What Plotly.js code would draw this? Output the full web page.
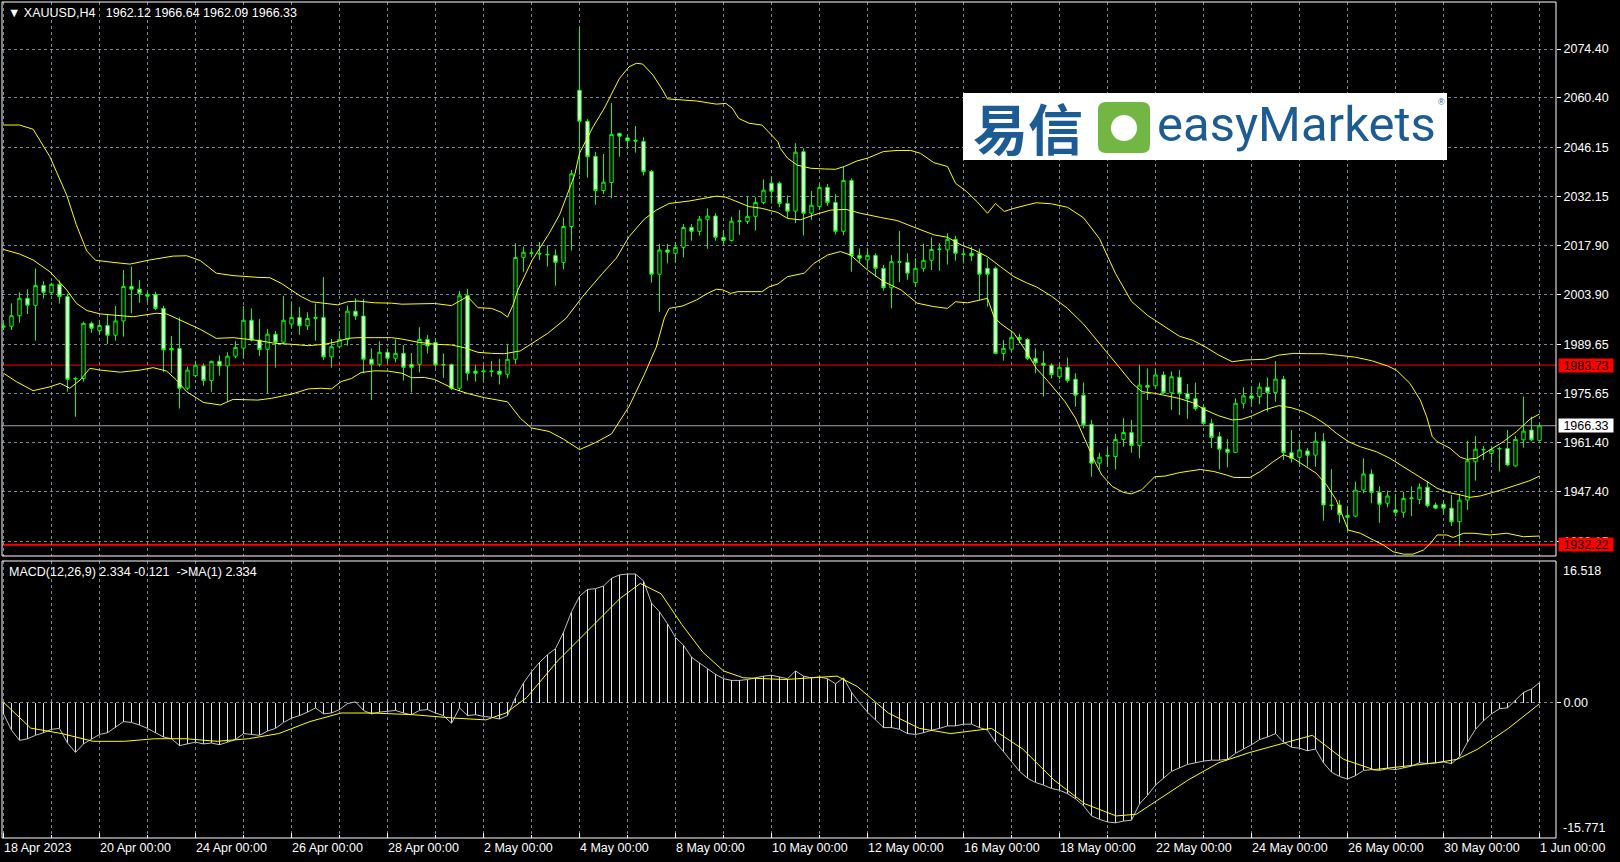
<!DOCTYPE html>
<html><head><meta charset="utf-8">
<script src="https://cdn.plot.ly/plotly-3.0.1.min.js"></script>
<style>html,body{margin:0;padding:0;background:#000;overflow:hidden}#chart{width:1620px;height:862px}</style>
</head><body><div id="chart"></div>
<script>
// ---------------- DATA ----------------
const symbolTitle = "XAUUSD,H4";
const lastOHLC = [1962.12, 1966.64, 1962.09, 1966.33];
const openP = [1994.6,1994.85,1997.9,2002.9,2000.9,2006.6,2004.5,2006.9,2003.4,1979.7,
1979.9,1995.7,1993.6,1995.1,1992.3,1996.4,2006.3,2005.5,2004.0,2004.0,
2000.0,1988.5,1988.5,1977.1,1980.7,1983.5,1979.3,1984.8,1983.5,1986.3,
1988.6,1996.6,1990.9,1988.25,1992.6,1990.3,1995.5,1997.4,1995.0,1997.4,
1997.4,1986.1,1989.0,1991.1,1999.2,1997.8,1985.4,1983.95,1987.4,1985.7,
1987.1,1983.95,1983.95,1991.1,1990.2,1983.9,1983.9,1977.1,2003.7,1982.0,
1981.8,1981.9,1982.0,1981.1,1985.4,2014.65,2015.8,2015.6,2015.5,2015.2,
2013.2,2023.5,2062.6,2053.66,2043.6,2033.8,2036.1,2050.2,2048.9,2048.2,
2047.9,2039.3,2009.8,2016.75,2015.8,2017.5,2023.2,2022.1,2025.55,2026.5,
2020.4,2019.5,2024.9,2024.9,2026.4,2030.4,2035.9,2035.9,2030.1,2027.9,
2044.96,2027.3,2029.2,2034.7,2030.4,2022.1,2036.7,2015.2,2013.9,2015.2,
2011.5,2005.9,2013.2,2013.2,2007.4,2011.5,2013.8,2016.9,2016.8,2019.8,
2015.6,2015.8,2015.8,2011.5,2011.5,1987.1,1988.3,1991.7,1991.1,1985.7,
1984.25,1983.7,1980.4,1983.1,1979.7,1975.1,1966.7,1955.6,1957.6,1957.5,
1962.4,1964.4,1960.7,1977.9,1977.8,1980.9,1975.8,1980.2,1975.5,1974.1,
1971.6,1967.0,1963.2,1959.6,1958.7,1972.8,1974.9,1974.7,1977.4,1975.9,
1979.7,1958.6,1957.3,1959.1,1957.9,1961.9,1943.6,1943.6,1940.6,1940.4,
1947.9,1952.5,1947.2,1944.1,1942.2,1941.5,1945.4,1945.2,1948.7,1943.6,
1943.8,1942.7,1938.8,1945.0,1956.0,1959.4,1958.4,1959.7,1959.8,1954.8,
1962.3,1965.1,1962.12];
const highP = [1995.8,2001.45,2004.6,2005.5,2011.5,2007.8,2007.4,2008.0,2004.3,1980.4,
1996.2,1996.2,1996.7,1998.4,2000.7,2011.0,2012.0,2008.1,2004.8,2004.8,
2000.7,1992.1,1997.4,1983.3,1985.0,1984.2,1985.0,1986.5,1987.4,1990.6,
2000.7,2000.0,1997.0,1994.1,1993.5,2003.6,2002.0,2000.4,1998.9,2001.4,
2009.0,1991.2,1993.5,2000.8,2002.9,2002.7,1988.5,1990.6,1988.5,1991.1,
1989.5,1987.2,1994.6,1992.4,1991.4,1987.1,1984.2,2005.0,2005.6,1983.8,
1983.8,1984.9,1985.5,1989.7,2018.7,2017.7,2016.8,2019.05,2018.1,2016.9,
2026.1,2039.7,2080.6,2054.3,2044.9,2044.3,2058.9,2050.4,2049.9,2052.3,
2049.1,2039.7,2018.5,2018.5,2018.9,2024.2,2024.2,2026.5,2028.7,2027.3,
2022.5,2026.3,2028.2,2032.2,2031.9,2037.0,2037.8,2036.4,2032.4,2047.4,
2045.9,2033.7,2035.7,2035.7,2032.8,2040.7,2037.3,2017.2,2017.2,2015.8,
2012.5,2015.3,2022.2,2015.8,2014.4,2018.5,2020.4,2018.7,2021.6,2020.8,
2016.9,2017.7,2017.2,2014.4,2011.97,1990.9,1993.6,1992.7,1991.5,1988.5,
1987.8,1984.25,1984.1,1985.9,1981.4,1978.7,1968.0,1958.6,1959.9,1964.0,
1968.5,1968.0,1983.8,1982.8,1982.8,1981.9,1981.9,1982.3,1978.3,1978.7,
1972.3,1968.3,1964.6,1962.5,1974.2,1977.4,1977.6,1978.7,1980.2,1984.9,
1980.6,1965.1,1962.1,1959.9,1964.6,1964.2,1953.9,1945.0,1943.1,1950.3,
1957.0,1953.8,1948.9,1947.7,1946.8,1947.4,1948.9,1949.8,1950.3,1944.3,
1945.0,1946.5,1946.8,1962.0,1963.4,1960.5,1960.5,1960.3,1965.1,1963.4,
1974.7,1968.9,1966.64];
const lowP = [1993.8,1993.8,1995.9,1998.4,1990.7,2002.8,2003.8,2001.4,1976.1,1968.9,
1979.0,1993.0,1992.4,1989.8,1990.7,1991.9,1998.6,2001.6,2001.7,1999.5,
1981.8,1981.4,1971.3,1976.6,1980.2,1977.8,1976.1,1980.7,1973.2,1985.7,
1985.7,1990.5,1986.4,1975.6,1983.0,1989.7,1994.3,1992.4,1993.8,1990.7,
1985.2,1983.0,1988.5,1989.3,1996.7,1981.4,1973.7,1983.3,1984.5,1984.5,
1979.3,1975.9,1981.6,1987.1,1983.0,1980.1,1976.6,1976.3,1979.3,1979.0,
1979.3,1980.4,1978.2,1979.9,1983.95,2010.5,2014.65,2013.9,2012.0,2006.5,
2011.2,2016.6,2038.3,2037.5,2029.7,2032.8,2031.6,2043.5,2045.9,2044.7,
2038.1,2007.4,1999.0,2012.9,2013.1,2014.65,2019.4,2020.9,2017.1,2019.4,
2018.2,2019.2,2021.1,2024.2,2022.3,2029.9,2030.1,2029.0,2025.9,2024.4,
2020.9,2025.4,2028.2,2029.4,2021.2,2021.0,2010.5,2013.1,2011.5,2009.1,
2005.1,2000.0,2007.6,2008.2,2006.2,2010.5,2011.0,2010.8,2012.6,2013.7,
2012.9,2013.6,2002.4,2000.5,1986.9,1985.0,1987.3,1990.0,1985.2,1981.4,
1974.7,1979.9,1979.7,1978.7,1971.8,1965.6,1951.7,1953.8,1954.6,1953.8,
1960.3,1958.6,1957.0,1973.7,1977.1,1975.5,1970.9,1969.4,1968.3,1970.7,
1966.6,1959.9,1953.8,1954.4,1958.6,1971.3,1972.0,1972.5,1970.4,1973.2,
1956.5,1955.8,1954.6,1954.6,1954.6,1939.1,1942.2,1938.5,1935.97,1940.1,
1946.95,1944.1,1938.5,1942.9,1940.3,1940.0,1940.4,1943.9,1942.9,1942.4,
1940.7,1937.6,1931.8,1942.2,1950.6,1956.5,1955.6,1953.2,1954.8,1954.6,
1960.05,1961.96,1962.09];
const closeP = [1994.9,1997.9,2002.9,2000.9,2006.6,2004.6,2006.9,2003.4,1979.65,1979.9,
1995.7,1994.3,1995.1,1992.3,1996.4,2006.3,2005.5,2004.3,2003.5,2000.0,
1988.1,1988.1,1977.1,1982.3,1983.7,1979.3,1984.8,1983.5,1986.3,1988.8,
1996.6,1990.9,1988.2,1992.6,1990.3,1996.6,1997.4,1995.0,1997.1,1997.2,
1986.1,1989.0,1991.1,1999.2,1997.8,1985.4,1983.95,1987.4,1985.7,1987.1,
1983.1,1983.1,1991.1,1989.2,1983.8,1983.8,1977.1,2003.6,1981.4,1981.4,
1982.0,1982.0,1981.1,1985.4,2014.6,2016.1,2015.9,2015.7,2015.4,2013.2,
2023.5,2038.6,2053.7,2043.5,2033.8,2036.2,2049.9,2049.4,2048.1,2048.0,
2039.2,2009.8,2016.75,2016.1,2017.5,2023.2,2022.1,2025.6,2026.5,2020.4,
2019.5,2025.0,2025.1,2026.4,2030.4,2033.9,2033.6,2030.1,2027.9,2044.8,
2027.3,2029.6,2034.7,2030.4,2022.1,2036.7,2015.1,2014.4,2015.2,2011.5,
2005.9,2013.4,2013.4,2010.1,2011.5,2013.8,2016.9,2017.0,2019.8,2015.8,
2015.5,2015.1,2009.8,2009.8,1987.1,1988.55,1991.7,1991.1,1985.7,1984.4,
1983.7,1981.0,1983.1,1979.3,1975.1,1966.6,1955.6,1957.3,1957.8,1962.4,
1964.4,1960.7,1978.0,1977.4,1980.9,1975.8,1980.4,1975.5,1974.1,1971.3,
1967.0,1963.0,1959.6,1958.7,1972.8,1974.9,1974.2,1977.4,1975.9,1979.7,
1958.6,1957.0,1959.4,1957.9,1961.9,1943.6,1943.5,1940.9,1940.1,1947.9,
1952.5,1947.2,1943.8,1946.2,1941.5,1945.5,1945.6,1948.7,1943.4,1942.7,
1942.7,1938.8,1945.0,1956.3,1959.6,1959.5,1959.4,1959.8,1955.1,1962.4,
1964.8,1962.3,1966.33];

// Bollinger bands (20,2): bar position / price
const bbUpperIdx = [0,2,3.7,5.8,7.9,9.1,10.4,11.5,13.7,15.8,18.3,21.2,22.9,24.6,26.6,28.7,31.8,33.3,34.7,36,37.2,38.5,40.1,41.8,43,44.3,46.4,48.5,49.8,51.8,53.9,56,56.8,58,59.3,61,62.2,63,63.7,64.3,66.1,68.2,69.5,70.7,71.4,72,73.7,75.1,77,78.2,79.1,79.9,81.2,82.4,83,84.8,86.6,89.1,90.3,91.1,91.9,93.2,94.8,95.6,96.8,97.1,98,99.2,100.9,102.6,104,105.1,106.7,108,110,111.7,113.4,114.6,116.3,118,119,120.4,121.7,123,124,125.1,126.3,128,129.1,131,133,135,137,139,141,143,145,147,148.6,150.2,151.9,153.6,155.2,157.7,159.4,161.3,163,165,167,169,171,173,174.1,175.8,177.1,177.9,178.6,179.2,180.8,182.1,182.9,184.1,185.8,187.5,189.1,190.8,192];
const bbUpperVal = [2052.6,2052.6,2051.4,2043.5,2032.5,2024,2016.5,2013.8,2013.2,2012.7,2013.9,2015.0,2015.1,2013.7,2010.1,2009.4,2008.9,2008.8,2007.2,2005.3,2003.4,2001.9,2001.5,2001.0,2001.9,2002.1,2001.6,2001.5,2001.2,2001.2,2001.4,2000.8,2001.9,2003.4,2000.2,2000.0,1998.9,1997.5,2001.0,2005.3,2013.9,2021.5,2026.8,2033.9,2038.3,2044.5,2052.1,2057.4,2066.0,2069.3,2070.3,2070.1,2066.9,2062.6,2060.1,2059.8,2059.5,2058.6,2058.8,2057.4,2054.5,2053.1,2052.6,2050.7,2047.8,2045.9,2043.1,2041.1,2040.2,2040.0,2039.9,2040.7,2042.3,2043.1,2045.0,2045.3,2045.3,2044.5,2041.8,2040.7,2035.9,2033.5,2030.6,2027.3,2030.1,2027.8,2028.7,2029.7,2030.3,2030,2029,2026,2020,2010,2002,1998,1995,1992,1990.9,1989.0,1986.6,1984.7,1985.2,1985.4,1986.6,1987.1,1987,1987,1986.5,1986,1985,1983.5,1982.3,1978.5,1973.7,1968.9,1963.2,1961.8,1959.9,1957.3,1956.7,1957.0,1959.4,1961.8,1964.6,1968.2,1969.7];
const bbMidIdx = [0,2,3.7,5.8,7.9,9.1,10.4,12.1,16.2,19.1,20.4,22.5,24.6,26.6,28.7,31.8,33.9,36,38.1,40.1,41.8,43,44.3,46.4,48.5,49.8,51.8,53.9,56,57.6,59.3,61,62.6,64.6,66,68,70.3,72.4,74.9,76.6,78.2,80.1,81.6,83.2,85.7,87.4,89.1,90.3,91.6,93.2,94.8,96.8,98,99.6,101.3,103.4,105.3,107.1,109.6,111.7,113.8,116.3,118,119.7,121.3,123,124.6,126.3,128,129.1,131,133,135,136.7,138.2,139.4,141.1,142.3,144,145.7,146.9,148.6,150.2,151.9,153.6,154.8,156.1,157.7,159.4,161,162.5,164.1,165.4,166.6,168.1,169.6,171.6,173.3,175,176.7,178.3,179.2,180.8,182.1,183.3,184.6,185.8,187.5,189.1,190.8,192];
const bbMidVal = [2016.9,2015.6,2013.9,2010.5,2005.3,2001.5,1999.4,1998.4,1997.6,1998.6,1998.4,1996.2,1994.0,1991.4,1991.6,1990.8,1990.0,1989.7,1989.3,1989.7,1990.5,1991.4,1991.6,1991.6,1991.6,1991.2,1990.3,1989.7,1989.5,1988.7,1987.4,1987.1,1987.0,1987.8,1989.8,1992.8,1997.1,2003.4,2010.1,2014.4,2020.6,2025.6,2028.2,2030.1,2030.8,2031.6,2032.2,2031.9,2030.6,2029.2,2028.7,2027.5,2025.8,2025.4,2026.8,2028.2,2028.4,2027.3,2026.1,2025.2,2023.3,2021.1,2020.4,2018.2,2016.8,2014.8,2012.0,2009.1,2007.2,2006.2,2003.5,2000,1995.5,1990.9,1986.6,1983.3,1978.5,1976.1,1975.6,1974.7,1974.2,1973.0,1970.9,1969.2,1968.0,1968.2,1969.2,1970.9,1972.1,1971.5,1970.4,1968.5,1966.5,1964.2,1961.8,1960.3,1958.9,1957.0,1954.6,1952.2,1949.8,1948.4,1947.1,1946.5,1945.8,1946.2,1946.9,1948.1,1949.3,1950.6,1951.9];
const bbLowIdx = [0,1.6,3.7,5.8,7.1,8.3,9.6,10.8,12.1,14.6,17.1,18.7,20.4,21.6,22.9,25,27.1,28.7,31.8,33.5,36,38.1,39.7,41,42.2,43.5,44.7,46.4,48.1,49.8,51,52.6,53.9,56.4,58,60.1,61.8,63,64.6,66,68.2,70,72,74,76,78.2,80.1,81.6,82.6,83.2,84.9,86.6,88,89.1,89.9,90.9,91.8,94.8,95.7,96.8,98,100.1,101.3,103,104.6,105.9,108,110,112.2,114.2,116.3,118,119,120.5,122.1,123,123.8,124.6,126.3,128,129.1,130.6,132.7,134,135.2,136.5,137.3,138.6,140,141,142.3,143.9,145.2,147,149.6,151.3,152.9,153.8,155.8,157.1,158.7,160,161.2,162.5,164.1,165.4,166.6,168.1,169.6,171.2,172.5,173.7,175,176.2,177.5,178.3,179.2,180.4,181.2,182.5,183.8,185.8,187.9,190,192];
const bbLowVal = [1981.4,1979.0,1976.4,1977.5,1978.5,1977.1,1979.5,1982.8,1982.3,1981.7,1982.3,1983.0,1982.0,1979.5,1976.1,1973.0,1972.3,1973.9,1973.7,1974.2,1975.4,1976.9,1977.1,1976.9,1979.0,1979.9,1981.6,1982.1,1982.0,1981.4,1980.1,1980.2,1979.6,1976.8,1975.6,1974.4,1973.7,1973.2,1968.5,1965.7,1964.7,1962.5,1959.5,1961.5,1964,1971.9,1981,1988.9,1997.2,2000.0,2000.7,2002.4,2004.3,2005.5,2005.3,2004.3,2004.8,2004.8,2006.2,2007.0,2009.1,2010.1,2012.9,2015.3,2016.3,2015.3,2011.0,2007.7,2005.3,2001.5,2000.5,2000.0,2001.9,2001.6,2002.4,2002.9,1997.6,1995.7,1992.9,1987.1,1982.8,1979.0,1973.2,1968.5,1962.3,1955.6,1952.2,1948.9,1947.2,1946.8,1948,1951.7,1951.9,1952.9,1953.8,1953.2,1952.2,1951.5,1951.5,1953.2,1956.0,1958.0,1957.0,1955.1,1952.7,1949.3,1945.0,1936.4,1935.5,1933.6,1932.1,1930.2,1929.5,1929.5,1930.7,1932.4,1935.0,1935.0,1934.3,1935.5,1935.5,1935.0,1935.5,1934.5,1934.7];

// MACD(12,26,9) main line, one value per bar (histogram + MA(1) line)
const macdVal = [-1.3,-3.2,-4.4,-4.2,-3.8,-3.5,-3.1,-3.0,-4.7,-5.8,
-4.8,-4.2,-3.7,-3.5,-2.9,-2.2,-2.3,-2.6,-3.0,-3.5,
-4.0,-4.2,-5.0,-4.8,-4.6,-4.8,-4.7,-4.9,-4.6,-4.3,
-3.6,-3.7,-3.8,-3.3,-3.0,-2.3,-1.8,-1.5,-1.1,-0.6,
-1.3,-1.2,-0.8,-0.1,0.1,-0.9,-1.3,-1.1,-1.0,-0.9,
-1.2,-1.4,-0.9,-0.8,-1.2,-1.5,-2.4,-0.6,-1.5,-1.4,
-1.6,-1.7,-1.9,-1.5,0.6,2.3,3.6,4.7,5.6,6.3,
8.2,10.6,12.4,13.2,13.3,13.6,14.5,14.9,15.0,15.0,
14.2,11.6,10.6,9.2,7.6,6.7,5.3,4.6,3.9,3.3,
2.8,2.6,2.6,2.7,2.9,3.1,3.2,3.0,2.8,3.7,
3.1,2.9,3.0,2.8,2.2,2.9,1.2,0.0,-1.1,-2.0,
-2.9,-2.9,-3.1,-3.6,-3.7,-3.5,-3.2,-3.0,-2.7,-2.7,
-2.5,-2.5,-2.9,-3.2,-4.6,-5.7,-6.8,-8.0,-8.8,-9.3,
-9.6,-10.0,-10.2,-10.6,-11.2,-12.0,-13.2,-13.6,-13.9,-14.0,
-13.8,-13.7,-11.8,-10.8,-9.6,-8.8,-8.0,-7.6,-7.2,-7.0,
-6.8,-6.7,-6.7,-6.6,-5.9,-5.4,-4.9,-4.3,-4.0,-3.6,
-4.6,-5.2,-5.3,-5.6,-5.4,-7.0,-8.1,-8.6,-8.9,-8.5,
-7.9,-7.8,-7.9,-7.7,-7.8,-7.6,-7.4,-7.0,-7.1,-7.0,
-6.9,-7.1,-6.3,-4.6,-3.1,-2.1,-1.3,-0.7,-0.6,0.3,
1.2,1.6,2.334];
// signal line: bar position / value
const sigIdx = [0,3.4,7.3,11.2,15.1,18.9,22.8,26.7,30.6,34.4,38.3,42.2,46.1,51.2,56.4,60.3,62.8,65.4,69.3,73.2,77,79.6,82.2,84.8,87.4,90,92.5,97.7,101.6,104.2,106.7,110.6,114.5,118.4,123.5,127.4,131.3,135.2,139.1,141.6,144.2,148.1,151.9,155.8,159.7,163.6,167.5,171.3,175.2,179.1,181.7,184.3,188.1,192];
const sigVal = [0.05,-2.96,-3.6,-4.5,-4.5,-4.2,-4.2,-4.5,-4.2,-3.6,-2.2,-1.2,-1.2,-1.4,-1.8,-2.0,-1.2,0.6,4.9,8.5,12.1,13.9,12.7,9.1,5.9,3.7,2.9,2.7,2.9,3.1,1.9,-1.2,-3.0,-3.6,-3.0,-5.4,-9.0,-11.8,-13.2,-13.0,-11.4,-9.0,-7.0,-5.8,-4.8,-3.8,-6.6,-7.8,-7.4,-7.0,-6.6,-5.4,-3.0,-0.121];

const xTickIdx = [0,12,24,36,48,60,72,84,96,108,120,132,144,156,168,180,192];
const xTickText = ["18 Apr 2023","20 Apr 00:00","24 Apr 00:00","26 Apr 00:00","28 Apr 00:00","2 May 00:00","4 May 00:00","8 May 00:00","10 May 00:00","12 May 00:00","16 May 00:00","18 May 00:00","22 May 00:00","24 May 00:00","26 May 00:00","30 May 00:00","1 Jun 00:00"];
const priceTicks = [2074.40,2060.40,2046.15,2032.15,2017.90,2003.90,1989.65,1975.65,1961.40,1947.40,1933.15];
const levelLines = [1983.73, 1932.22];
const bidPrice = 1966.33;
const macdExtremes = [16.518, -15.771];
const macdText = "MACD(12,26,9) 2.334 -0.121\u00a0\u00a0->MA(1) 2.334";

// ---------------- LAYOUT ----------------
const W = 1620, H = 862, L = 2, R = 1556, T = 2, B = 838;
const MAIN_BOTTOM = 556, MACD_TOP = 561;
const px = x => (x - L) / (R - L);
const py = y => (B - y) / (B - T);
const barIdx = openP.map((_, i) => i);
const FONT = "Liberation Sans, Arial, sans-serif";
const FS = 12.5;
const GRID = "#778899";
const BLUE = "#1c5c92";

const traces = [
  {type: "candlestick", x: barIdx, open: openP, high: highP, low: lowP, close: closeP,
   xaxis: "x", yaxis: "y", whiskerwidth: 0, hoverinfo: "skip",
   increasing: {line: {color: "#00ff00", width: 1}, fillcolor: "#000000"},
   decreasing: {line: {color: "#00ff00", width: 1}, fillcolor: "#ffffff"}},
  {type: "scatter", mode: "lines", x: bbUpperIdx, y: bbUpperVal, xaxis: "x", yaxis: "y", line: {color: "#ffff00", width: 1}},
  {type: "scatter", mode: "lines", x: bbMidIdx, y: bbMidVal, xaxis: "x", yaxis: "y", line: {color: "#ffff00", width: 1}},
  {type: "scatter", mode: "lines", x: bbLowIdx, y: bbLowVal, xaxis: "x", yaxis: "y", line: {color: "#ffff00", width: 1}},
  {type: "bar", x: barIdx, y: macdVal, xaxis: "x", yaxis: "y2", width: 0.125, marker: {color: "#e6e6e6", line: {width: 0}}},
  {type: "scatter", mode: "lines", x: barIdx, y: macdVal, xaxis: "x", yaxis: "y2", line: {color: "#c0c0c0", width: 1}},
  {type: "scatter", mode: "lines", x: sigIdx, y: sigVal, xaxis: "x", yaxis: "y2", line: {color: "#ffff00", width: 1}}
];

const shapes = [];
shapes.push({type: "line", xref: "paper", x0: 0, x1: 1, yref: "y", y0: levelLines[0], y1: levelLines[0], line: {color: "#ff0000", width: 1}, layer: "below"});
shapes.push({type: "line", xref: "paper", x0: 0, x1: 1, yref: "y", y0: levelLines[1], y1: levelLines[1], line: {color: "#ff0000", width: 2}, layer: "below"});
shapes.push({type: "line", xref: "paper", x0: 0, x1: 1, yref: "y", y0: bidPrice, y1: bidPrice, line: {color: "#a0a0a8", width: 1}, layer: "below"});
shapes.push({type: "rect", xref: "paper", yref: "paper", x0: 0, x1: 1, y0: py(MAIN_BOTTOM), y1: 1, line: {color: "#ffffff", width: 1}});
shapes.push({type: "rect", xref: "paper", yref: "paper", x0: 0, x1: 1, y0: 0, y1: py(MACD_TOP), line: {color: "#ffffff", width: 1}});
// logo
shapes.push({type: "rect", xref: "paper", yref: "paper", x0: px(963), x1: px(1447), y0: py(160), y1: py(93), fillcolor: "#ffffff", line: {width: 0}});
function rr(x0, y0, x1, y1, r) {
  const P = (x, y) => px(x) + "," + py(y);
  return "M" + P(x0 + r, y0) + " L" + P(x1 - r, y0) + " Q" + P(x1, y0) + " " + P(x1, y0 + r) +
    " L" + P(x1, y1 - r) + " Q" + P(x1, y1) + " " + P(x1 - r, y1) + " L" + P(x0 + r, y1) +
    " Q" + P(x0, y1) + " " + P(x0, y1 - r) + " L" + P(x0, y0 + r) + " Q" + P(x0, y0) + " " + P(x0 + r, y0) + " Z";
}
shapes.push({type: "path", xref: "paper", yref: "paper", path: rr(1098, 102, 1150, 153, 8), fillcolor: "#72b644", line: {width: 0}});
shapes.push({type: "circle", xref: "paper", yref: "paper", x0: px(1111), x1: px(1137), y0: py(141), y1: py(115), fillcolor: "#ffffff", line: {width: 0}});

const ann = [];
ann.push({xref: "paper", yref: "paper", x: px(6), y: py(13), xanchor: "left", yanchor: "middle", showarrow: false,
  text: "\u25BC\u00a0" + symbolTitle + "\u00a0\u00a0\u00a0" + lastOHLC.map(v => v.toFixed(2)).join("\u00a0"), font: {family: FONT, size: FS, color: "#ffffff"}});
ann.push({xref: "paper", yref: "paper", x: px(7), y: py(572), xanchor: "left", yanchor: "middle", showarrow: false,
  text: macdText, font: {family: FONT, size: FS, color: "#ffffff"}});
ann.push({xref: "paper", yref: "y", x: px(1558), y: levelLines[0], xanchor: "left", yanchor: "middle", showarrow: false, text: levelLines[0].toFixed(2), bgcolor: "#ff0000", width: 54, height: 13, borderpad: 0, font: {family: FONT, size: FS, color: "#000000"}});
ann.push({xref: "paper", yref: "y", x: px(1558), y: levelLines[1], xanchor: "left", yanchor: "middle", showarrow: false, text: levelLines[1].toFixed(2), bgcolor: "#ff0000", width: 54, height: 13, borderpad: 0, font: {family: FONT, size: FS, color: "#000000"}});
ann.push({xref: "paper", yref: "y", x: px(1558), y: bidPrice, xanchor: "left", yanchor: "middle", showarrow: false, text: bidPrice.toFixed(2), bgcolor: "#ffffff", width: 54, height: 13, borderpad: 0, font: {family: FONT, size: FS, color: "#000000"}});
ann.push({xref: "paper", yref: "y2", x: px(1561), y: macdExtremes[0], xanchor: "left", yanchor: "top", yshift: -1, showarrow: false, text: macdExtremes[0].toFixed(3), font: {family: FONT, size: FS, color: "#ffffff"}});
ann.push({xref: "paper", yref: "y2", x: px(1561), y: macdExtremes[1], xanchor: "left", yanchor: "bottom", yshift: 1, showarrow: false, text: macdExtremes[1].toFixed(3), font: {family: FONT, size: FS, color: "#ffffff"}});
ann.push({xref: "paper", yref: "paper", x: px(1028), y: py(126), xanchor: "center", yanchor: "middle", showarrow: false, text: "<b>易信</b>", font: {family: "Noto Sans CJK SC", size: 55, color: BLUE}});
ann.push({xref: "paper", yref: "paper", x: px(1155), y: py(124), xanchor: "left", yanchor: "middle", showarrow: false, text: "easyMarkets", font: {family: "Roboto, Open Sans, sans-serif", size: 49, color: BLUE}});
ann.push({xref: "paper", yref: "paper", x: px(1441), y: py(102), xanchor: "center", yanchor: "middle", showarrow: false, text: "®", font: {family: FONT, size: 9, color: BLUE}});

const layout = {
  width: W, height: H, paper_bgcolor: "#000000", plot_bgcolor: "#000000",
  margin: {l: L, r: W - R, t: T, b: H - B, pad: 0}, showlegend: false,
  font: {family: FONT, size: FS, color: "#ffffff"},
  boxgap: 0.3, boxgroupgap: 0.4, bargap: 0,
  xaxis: {anchor: "y2", range: [(L - 3.5) / 8, (R - 3.5) / 8], tickmode: "array", tickvals: xTickIdx, ticktext: xTickText,
    ticks: "inside", ticklen: 5, tickcolor: "#ffffff", tickwidth: 1, ticklabelposition: "outside right", ticklabeloverflow: "allow",
    tickfont: {family: FONT, size: FS, color: "#ffffff"},
    showgrid: true, gridcolor: GRID, griddash: "3px,3px", gridwidth: 1,
    minor: {tick0: 0, dtick: 6, ticks: "inside", ticklen: 3, tickcolor: "#ffffff", showgrid: true, gridcolor: GRID, griddash: "3px,3px", gridwidth: 1},
    zeroline: false, showline: false, rangeslider: {visible: false}, fixedrange: true},
  yaxis: {domain: [py(MAIN_BOTTOM), 1], range: [1928.97, 2087.89], side: "right", anchor: "x",
    tickmode: "array", tickvals: priceTicks, tickformat: ".2f", ticks: "outside", ticklen: 4, tickcolor: "#ffffff",
    tickfont: {family: FONT, size: FS, color: "#ffffff"}, showgrid: true, gridcolor: GRID, griddash: "3px,3px",
    zeroline: false, showline: false, fixedrange: true},
  yaxis2: {domain: [0, py(MACD_TOP)], range: [-15.771, 16.518], side: "right", anchor: "x",
    tickmode: "array", tickvals: [0], ticktext: ["0.00"], ticks: "outside", ticklen: 4, tickcolor: "#ffffff",
    tickfont: {family: FONT, size: FS, color: "#ffffff"}, showgrid: true, gridcolor: GRID, griddash: "3px,3px",
    zeroline: false, showline: false, fixedrange: true},
  shapes: shapes, annotations: ann
};

Plotly.newPlot("chart", traces, layout, {staticPlot: true, displayModeBar: false});
</script>
</body></html>
